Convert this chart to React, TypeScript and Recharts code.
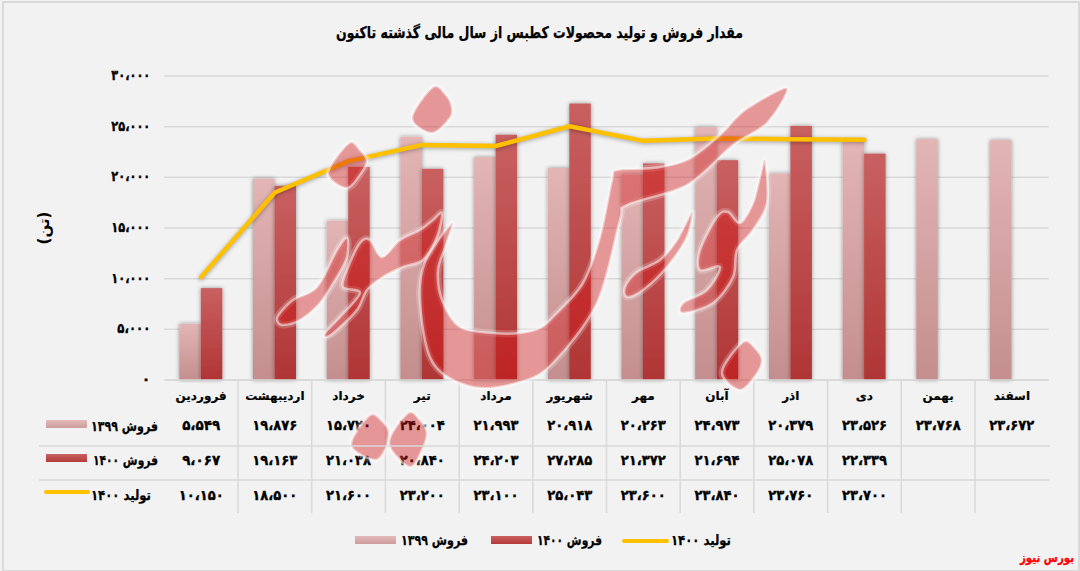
import React from 'react';
import { ComposedChart, Bar, Line, XAxis, YAxis, CartesianGrid } from 'recharts';

const months = ['فروردین','اردیبهشت','خرداد','تیر','مرداد','شهریور','مهر','آبان','اذر','دی','بهمن','اسفند'];
const sales1399 = [5549,19876,15720,24004,21993,20918,20263,24973,20379,23526,23768,23672];
const sales1400 = [9067,19163,21038,20840,24203,27285,21372,21694,25078,22339,null,null];
const prod1400 = [10150,18500,21600,23200,23100,25043,23600,23840,23760,23700,null,null];
const yTicks = [0,5000,10000,15000,20000,25000,30000];
const title = 'مقدار فروش و تولید محصولات کطبس از سال مالی گذشته تاکنون';
const unitLabel = '(تن)';
const nameA = 'فروش ۱۳۹۹';
const nameB = 'فروش ۱۴۰۰';
const nameC = 'تولید ۱۴۰۰';
const credit = 'بورس نیوز';

const rows = months.map((m, i) => ({ m, a: sales1399[i], b: sales1400[i], c: prod1400[i] }));
const FONT = '"DejaVu Sans", sans-serif';
const GRID = '#d9d9d9';

const fa = (v: number | null) =>
  v == null ? '' : String(v).replace(/\B(?=(\d{3})+$)/g, '،').replace(/\d/g, d => '۰۱۲۳۴۵۶۷۸۹'[+d]);

const ROW_Y = [426, 461, 496];
const cellW = 73.7;
const heavy = { stroke: '#000', strokeWidth: 0.35 };

function Column(props: any) {
  const { x, payload, index } = props;
  const r = rows[index];
  return (
    <g fontFamily={FONT} fontWeight="bold" textAnchor="middle" fill="#000">
      {index < months.length - 1 && (
        <line x1={x + cellW / 2} x2={x + cellW / 2} y1={380} y2={513} stroke={GRID} strokeWidth={1.5} />
      )}
      <text x={x} y={396} fontSize={12} dominantBaseline="middle" {...heavy} strokeWidth={0.2}>{payload.value}</text>
      {[r.a, r.b, r.c].map((v, k) => (
        <text key={k} x={x} y={ROW_Y[k]} fontSize={14} dominantBaseline="middle" {...heavy}
          textLength={v == null ? undefined : v >= 10000 ? 45 : 38} lengthAdjust="spacingAndGlyphs">{fa(v)}</text>
      ))}
    </g>
  );
}

function YTick(props: any) {
  const { x, y, payload } = props;
  const v = payload.value;
  return (
    <text x={x} y={y} fontFamily={FONT} fontWeight="bold" fontSize={14} textAnchor="end" dominantBaseline="middle" fill="#000" {...heavy}
      textLength={v >= 10000 ? 39 : v > 0 ? 33 : undefined} lengthAdjust="spacingAndGlyphs">
      {fa(v)}
    </text>
  );
}

const shadowBar = (fill: string) => (p: any) =>
  p.height > 0 ? <rect x={p.x} y={p.y} width={p.width} height={p.height} fill={fill} filter="url(#barShadow)" /> : <g />;

type P = [number, number];
const wmShapes: P[][] = [
  [[433,87],[446,95],[452,107],[450,118],[432,133],[412,118]],
  [[349,143],[360,150],[367,160],[362,172],[347,188],[328,173]],
  [[370,415],[383,422],[389,432],[386,448],[375,460],[351,445]],
  [[408,413],[420,420],[427,433],[422,450],[410,467],[389,443]],
  [[743,342],[755,348],[762,360],[756,375],[740,390],[722,372]],
  [[452,223],[446,245],[438,270],[442,300],[460,327],[493,333],[520,333],[540,328],[553,317],[583,283],[600,237],[612,180],[617,170],[653,168],[687,160],[720,135],[745,110],[787,88],[767,123],[733,145],[687,185],[627,205],[620,220],[597,303],[553,363],[520,382],[473,387],[433,363],[420,303],[425,262]],
  [[280,313],[293,300],[317,287],[337,250],[347,238],[347,257],[337,277],[320,303],[300,320],[283,325],[277,320]],
  [[325,333],[340,317],[360,293],[343,287],[347,270],[360,243],[370,240],[382,257],[400,240],[420,230],[433,220],[442,213],[437,237],[423,260],[403,267],[383,277],[367,290],[357,310],[337,330],[327,337]],
  [[692,212],[687,237],[667,267],[643,290],[627,297],[625,287],[637,272],[660,260],[677,240]],
  [[765,160],[767,203],[753,230],[737,250],[733,277],[713,303],[683,313],[683,303],[707,290],[720,267],[700,270],[700,250],[717,217],[728,212],[740,223],[753,203],[760,177]],
];

function smooth(pts: P[]) {
  const n = pts.length;
  let d = `M${pts[0][0]},${pts[0][1]}`;
  for (let i = 0; i < n; i++) {
    const p0 = pts[(i - 1 + n) % n], p1 = pts[i], p2 = pts[(i + 1) % n], p3 = pts[(i + 2) % n];
    const t = 0.16;
    d += `C${p1[0] + (p2[0] - p0[0]) * t},${p1[1] + (p2[1] - p0[1]) * t} ${p2[0] - (p3[0] - p1[0]) * t},${p2[1] - (p3[1] - p1[1]) * t} ${p2[0]},${p2[1]}`;
  }
  return d + 'Z';
}

function Label(props: any) {
  const { len, ...rest } = props;
  return <text textAnchor="end" dominantBaseline="middle" fontFamily={FONT} fontWeight="bold" fontSize={14} fill="#000" stroke={props.fill || '#000'} strokeWidth={0.25} textLength={len} lengthAdjust="spacingAndGlyphs" {...rest} />;
}

function Overlay() {
  return (
    <svg width={1080} height={571} style={{ position: 'absolute', left: 0, top: 0, pointerEvents: 'none' }}>
      <defs>
        <linearGradient id="swA" x1="0" x2="0" y1="0" y2="1"><stop offset="0" stopColor="#e3b9b9" /><stop offset="1" stopColor="#cf9c9c" /></linearGradient>
        <linearGradient id="swB" x1="0" x2="0" y1="0" y2="1"><stop offset="0" stopColor="#c96060" /><stop offset="1" stopColor="#b53a3a" /></linearGradient>
      </defs>
      {wmShapes.map((s, i) => (
        <g key={i}>
          <path d={smooth(s)} fill="none" stroke="rgba(255,255,255,0.2)" strokeWidth={7} strokeLinejoin="round" />
          <path d={smooth(s)} fill="rgba(210,15,15,0.4)" stroke="rgba(255,255,255,0.5)" strokeWidth={2.5} strokeLinejoin="round" />
        </g>
      ))}
      <line x1={39} x2={1050} y1={446} y2={446} stroke={GRID} strokeWidth={1.5} />
      <line x1={39} x2={1050} y1={480} y2={480} stroke={GRID} strokeWidth={1.5} />
      <rect x={46} y={420} width={41} height={8} fill="url(#swA)" />
      <rect x={46} y={454} width={41} height={8} fill="url(#swB)" />
      <line x1={46} x2={88} y1={492} y2={492} stroke="#ffc000" strokeWidth={4} strokeLinecap="round" />
      <Label x={158} y={427} len={67}>{nameA}</Label>
      <Label x={158} y={461} len={65}>{nameB}</Label>
      <Label x={151} y={496} len={60}>{nameC}</Label>
      <rect x={355} y={536} width={41} height={8} fill="url(#swA)" />
      <Label x={468} y={541} len={67}>{nameA}</Label>
      <rect x={491} y={536} width={41} height={8} fill="url(#swB)" />
      <Label x={602} y={541} len={65}>{nameB}</Label>
      <line x1={624} x2={667} y1={541} y2={541} stroke="#ffc000" strokeWidth={4} strokeLinecap="round" />
      <Label x={731} y={541} len={60}>{nameC}</Label>
      <Label x={743} y={33} len={407} fontSize={16}>{title}</Label>
      <text transform="translate(44,228) rotate(-90)" textAnchor="middle" dominantBaseline="middle" fontFamily={FONT} fontWeight="bold" fontSize={15} fill="#000">{unitLabel}</text>
      <Label x={1074} y={558} len={54} fontSize={13} fill="#ff0000">{credit}</Label>
    </svg>
  );
}

export default function App() {
  return (
    <div style={{ position: 'absolute', left: 0, top: 0, width: 1080, height: 571, background: '#f2f2f2', overflow: 'hidden' }}>
      <div style={{ position: 'absolute', left: 2, top: 1, width: 1074, height: 567, border: '2px solid #d9d9d9' }} />
      <div style={{ position: 'absolute', left: 0, top: 0 }}>
        <ComposedChart width={1080} height={571} data={rows} margin={{ top: 76, right: 31.3, bottom: 51, left: 104.3 }} barSize={21.5} barGap={0}>
          <defs>
            <linearGradient id="gA" x1="0" x2="0" y1="0" y2="1"><stop offset="0" stopColor="#e3b5b5" /><stop offset="1" stopColor="#c48e8e" /></linearGradient>
            <linearGradient id="gB" x1="0" x2="0" y1="0" y2="1"><stop offset="0" stopColor="#c96060" /><stop offset="1" stopColor="#b03535" /></linearGradient>
            <filter id="barShadow" x="-40%" y="-5%" width="180%" height="110%">
              <feDropShadow dx="0" dy="0" stdDeviation="2.2" floodColor="#000" floodOpacity="0.4" />
            </filter>
          </defs>
          <CartesianGrid vertical={false} stroke={GRID} strokeWidth={1.5} />
          <XAxis dataKey="m" height={140} interval={0} axisLine={{ stroke: GRID, strokeWidth: 1.5 }} tickLine={false} tick={(p: any) => <Column {...p} />} />
          <YAxis width={60} domain={[0, 30000]} ticks={yTicks} axisLine={false} tickLine={false} tickMargin={8} tick={(p: any) => <YTick {...p} />} />
          <Bar dataKey="a" shape={shadowBar('url(#gA)')} isAnimationActive={false} />
          <Bar dataKey="b" shape={shadowBar('url(#gB)')} isAnimationActive={false} />
          <Line dataKey="c" stroke="#ffc000" strokeWidth={4.5} strokeLinecap="round" strokeLinejoin="miter" dot={false} activeDot={false} isAnimationActive={false}
            style={{ filter: 'drop-shadow(0 1px 2px rgba(0,0,0,0.35))' }} />
        </ComposedChart>
      </div>
      <Overlay />
    </div>
  );
}
